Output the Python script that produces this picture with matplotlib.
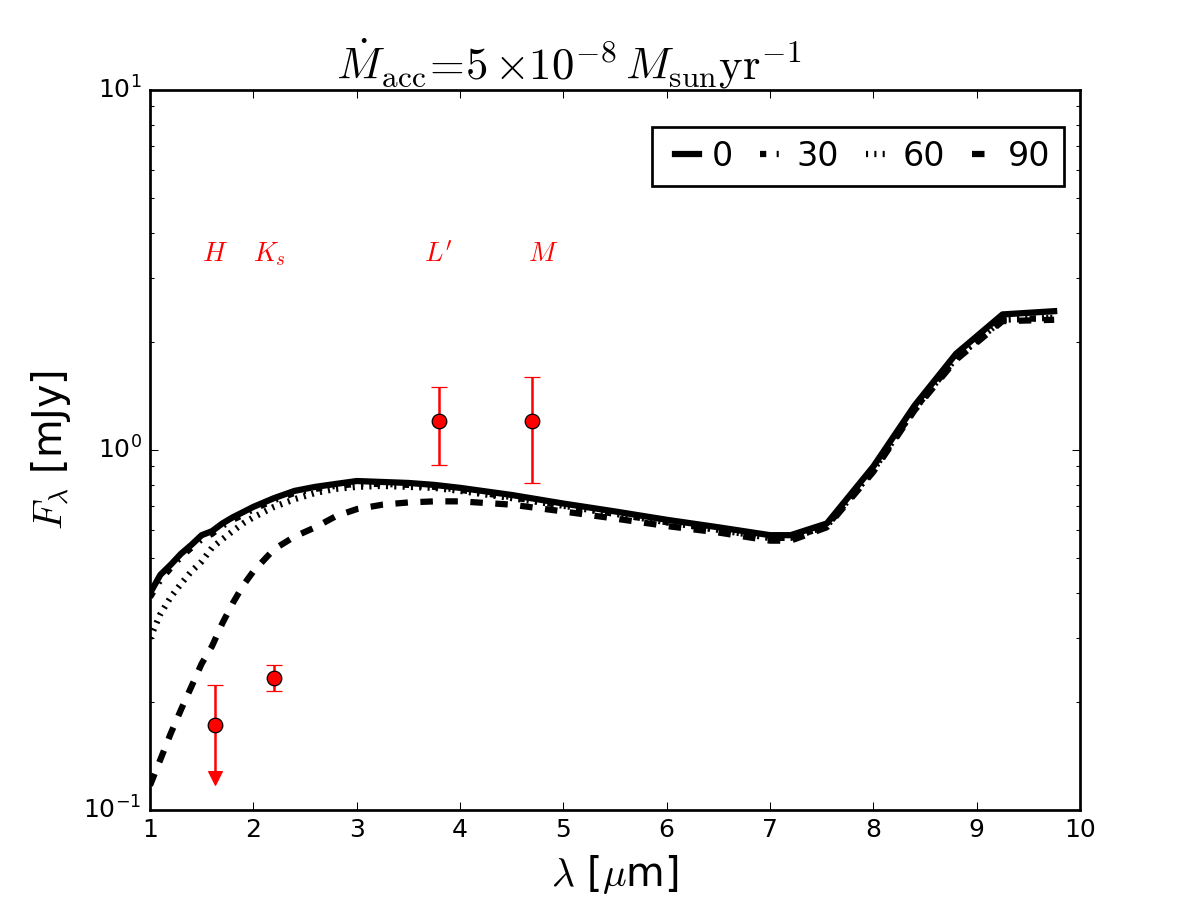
import matplotlib
matplotlib.use("Agg")
import matplotlib.pyplot as plt
import numpy as np

plt.style.use("classic")
plt.rcParams["figure.facecolor"] = "white"
plt.rcParams["savefig.facecolor"] = "white"
plt.rcParams["mathtext.fontset"] = "cm"
plt.rcParams["font.family"] = ["DejaVu Sans"]

# ---- data ----
wavelength = [1.0, 1.1, 1.2, 1.3, 1.4, 1.5, 1.6, 1.7, 1.8, 1.9, 2.0, 2.2, 2.4,
              2.6, 2.8, 3.0, 3.25, 3.5, 3.75, 4.0, 4.5, 5.0, 5.5, 6.0, 6.5,
              7.0, 7.2, 7.55, 8.0, 8.4, 8.8, 9.25, 9.75]
flux_0 = [0.40, 0.45, 0.48, 0.515, 0.545, 0.58, 0.595, 0.625, 0.65, 0.672,
          0.695, 0.735, 0.77, 0.79, 0.805, 0.82, 0.815, 0.81, 0.80, 0.785,
          0.75, 0.71, 0.675, 0.64, 0.61, 0.58, 0.58, 0.625, 0.90, 1.33,
          1.85, 2.38, 2.43]
flux_30 = [0.39, 0.435, 0.47, 0.505, 0.535, 0.565, 0.585, 0.615, 0.64, 0.66,
           0.685, 0.725, 0.76, 0.78, 0.795, 0.805, 0.805, 0.80, 0.79, 0.775,
           0.74, 0.70, 0.665, 0.63, 0.60, 0.57, 0.57, 0.615, 0.88, 1.30,
           1.80, 2.30, 2.33]
flux_60 = [0.30, 0.35, 0.39, 0.425, 0.46, 0.49, 0.535, 0.565, 0.595, 0.625,
           0.65, 0.695, 0.73, 0.76, 0.78, 0.79, 0.795, 0.79, 0.785, 0.77,
           0.735, 0.70, 0.665, 0.63, 0.60, 0.57, 0.57, 0.615, 0.88, 1.30,
           1.80, 2.30, 2.33]
flux_90 = [0.117, 0.138, 0.163, 0.19, 0.22, 0.255, 0.285, 0.33, 0.375, 0.42,
           0.46, 0.53, 0.575, 0.61, 0.655, 0.685, 0.705, 0.715, 0.72, 0.72,
           0.705, 0.675, 0.645, 0.615, 0.59, 0.56, 0.56, 0.61, 0.87, 1.29,
           1.78, 2.28, 2.30]
inclinations = ["0", "30", "60", "90"]

band_names = ["$H$", "$K_s$", "$L'$", "$M$"]
band_label_x = [1.63, 2.16, 3.79, 4.8]
band_label_y = 3.5
obs_x = [1.63, 2.2, 3.8, 4.7]
obs_flux = [0.172, 0.233, 1.2, 1.2]
obs_err_lo = [0.049, 0.019, 0.29, 0.39]
obs_err_hi = [0.05, 0.019, 0.30, 0.40]
upper_limit = [True, False, False, False]

# ---- plot ----
fig = plt.figure(figsize=(8, 6), dpi=150)
ax = fig.add_axes([0.125, 0.1, 0.775, 0.8])

lw = 3
ax.plot(wavelength, flux_0, color="k", lw=lw, ls="-", label=inclinations[0])
ax.plot(wavelength, flux_30, color="k", lw=lw, ls="-.", label=inclinations[1])
ax.plot(wavelength, flux_60, color="k", lw=lw, ls=":", label=inclinations[2])
ax.plot(wavelength, flux_90, color="k", lw=lw, ls="--", label=inclinations[3])

for xi, yi, lo, hi, ul in zip(obs_x, obs_flux, obs_err_lo, obs_err_hi, upper_limit):
    _, caps, _ = ax.errorbar([xi], [yi], yerr=[[lo], [hi]], fmt="o",
                             color="red", ecolor="red", mfc="red", mec="k",
                             ms=7, mew=0.6, capsize=3.8, elinewidth=1.2,
                             capthick=1.2, zorder=5)
    if ul:
        caps[0].set_visible(False)
        ax.plot([xi], [yi - lo], marker="v", color="red", mec="red", ms=7,
                ls="none", zorder=5)

for name, bx in zip(band_names, band_label_x):
    ax.text(bx, band_label_y, name, color="red", fontsize=13,
            ha="center", va="center")

ax.set_yscale("log")
ax.set_xlim(1, 10)
ax.set_ylim(0.1, 10)
ax.set_xticks(range(1, 11))
ax.tick_params(labelsize=12)
for s in ax.spines.values():
    s.set_linewidth(1.3)

ax.set_xlabel(r"$\lambda$ [$\mu$m]", fontsize=19)
ax.set_ylabel(r"$F_\lambda$ [mJy]", fontsize=19)
ax.set_title(r"$\dot{M}_{\rm acc}\!=\!5\,{\times}10^{-8}\,M_{\rm sun}{\rm yr}^{-1}$",
             fontsize=21.5, x=0.45)

leg = ax.legend(loc="upper right", bbox_to_anchor=(0.983, 0.949),
                borderaxespad=0, ncol=4, fontsize=16, handlelength=1.3,
                handletextpad=0.1, columnspacing=0.5, borderpad=0.4,
                numpoints=2, fancybox=False)
leg.get_frame().set_linewidth(1.3)

fig.savefig("out.png", dpi=150)
